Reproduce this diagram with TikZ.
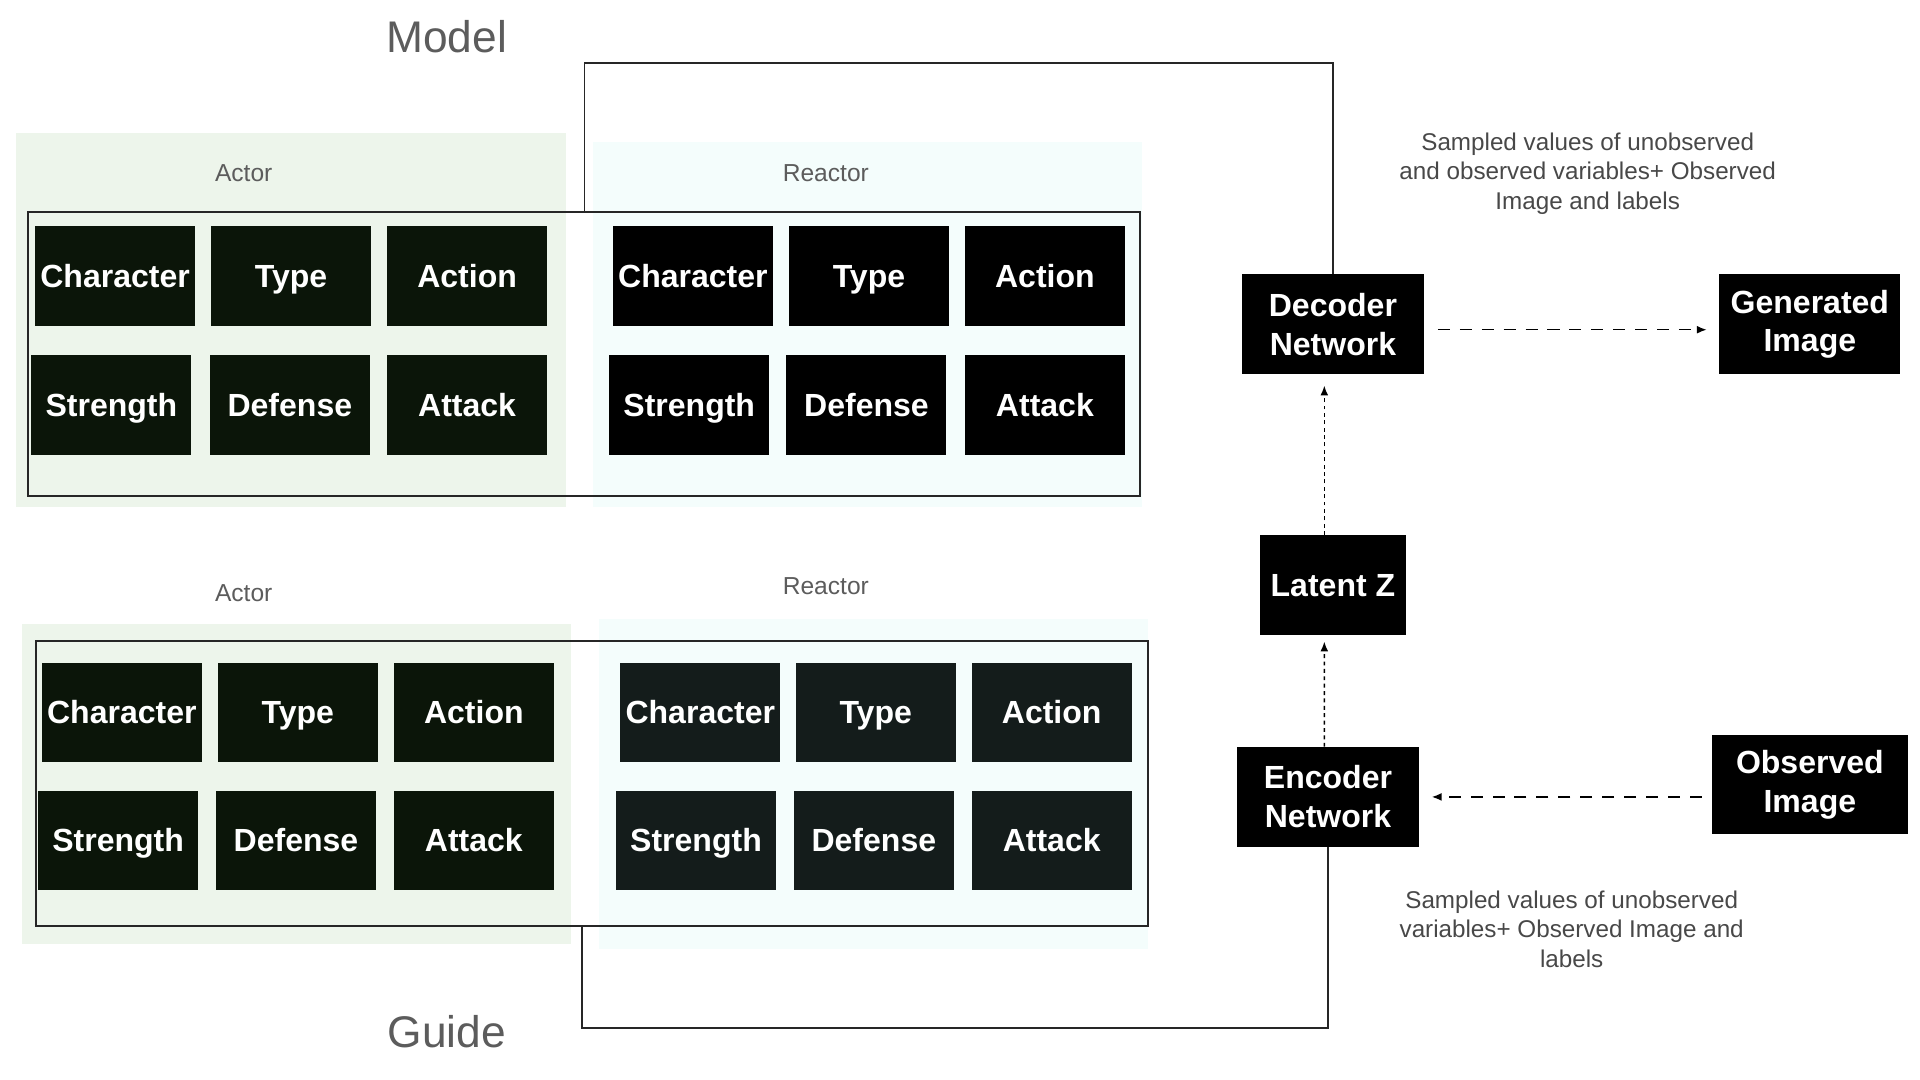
\documentclass[tikz,border=0pt]{standalone}
\usepackage{fontspec}
\setmainfont{Liberation Sans}
\usetikzlibrary{arrows.meta}
\definecolor{actorbg}{HTML}{EDF5EB}
\definecolor{reactorbg}{HTML}{F4FDFC}
\definecolor{actorbox}{HTML}{0B1509}
\definecolor{guidebox}{HTML}{141C1B}
\definecolor{titlegray}{HTML}{5C5C5C}
\definecolor{notegray}{HTML}{484848}

\begin{document}
\begin{tikzpicture}[x=0.025cm, y=-0.025cm,
	attrbox/.style={fill=#1, text=white, inner sep=0pt, text height=13pt, text depth=0pt, minimum width=3.25cm, minimum height=2.025cm, font=\bfseries\fontsize{18.5}{22}\selectfont},
	netbox/.style={fill=black, text=white, inner sep=0pt, align=center, minimum width=#1, minimum height=2.025cm, font=\bfseries\fontsize{18.5}{22.5}\selectfont},
	groupframe/.style={draw=black!85, line width=0.04cm, inner sep=0pt, minimum width=22.6cm, minimum height=5.775cm},
	grplabel/.style={text=titlegray, font=\fontsize{14.2}{17}\selectfont},
	sidetitle/.style={text=titlegray, font=\fontsize{25.6}{30}\selectfont},
	sidenote/.style={text=notegray, align=center, font=\fontsize{14}{17}\selectfont},
	loopline/.style={draw=black!85, line width=0.035cm},
	dashedflow/.style={line width=0.03cm, dash pattern=on 0.245cm off 0.2cm, -{Latex[length=0.2cm,width=0.16cm]}},
	dottedflow/.style={line width=0.03cm, dash pattern=on 0.08cm off 0.07cm, -{Latex[length=0.2cm,width=0.16cm]}}]
			%%%%% START %%%%%
			\useasboundingbox (0, 0) rectangle (1560, 877.5);
			
			\node[sidetitle] (model) at (363, 30) {Model};
			\node[sidetitle] (guide) at (363, 838) {Guide};
			
			% model side
			\fill[actorbg] (13, 108) rectangle (460, 412);
			\fill[reactorbg] (482, 115) rectangle (928, 412);
			\node[grplabel] (mactor) at (198, 141) {Actor};
			\node[grplabel] (mreactor) at (671, 141) {Reactor};
			\node[groupframe] (mframe) at (474.5, 287.5) {};
			
			\node[attrbox=actorbox] (macha) at (93.5, 224.5) {Character};
			\node[attrbox=actorbox] (matyp) at (236.5, 224.5) {Type};
			\node[attrbox=actorbox] (maact) at (379.5, 224.5) {Action};
			\node[attrbox=actorbox] (mastr) at (90.5, 329) {Strength};
			\node[attrbox=actorbox] (madef) at (235.5, 329) {Defense};
			\node[attrbox=actorbox] (maatk) at (379.5, 329) {Attack};
			
			\node[attrbox=black] (mrcha) at (563, 224.5) {Character};
			\node[attrbox=black] (mrtyp) at (706, 224.5) {Type};
			\node[attrbox=black] (mract) at (849, 224.5) {Action};
			\node[attrbox=black] (mrstr) at (560, 329) {Strength};
			\node[attrbox=black] (mrdef) at (704, 329) {Defense};
			\node[attrbox=black] (mratk) at (849, 329) {Attack};
			
			% guide side
			\fill[actorbg] (18, 507) rectangle (464, 767);
			\fill[reactorbg] (487, 503) rectangle (933, 771);
			\node[grplabel] (gactor) at (198, 482) {Actor};
			\node[grplabel] (greactor) at (671, 476) {Reactor};
			\node[groupframe] (gframe) at (481, 636.5) {};
			
			\node[attrbox=actorbox] (gacha) at (99, 579) {Character};
			\node[attrbox=actorbox] (gatyp) at (242, 579) {Type};
			\node[attrbox=actorbox] (gaact) at (385, 579) {Action};
			\node[attrbox=actorbox] (gastr) at (96, 683) {Strength};
			\node[attrbox=actorbox] (gadef) at (240.5, 683) {Defense};
			\node[attrbox=actorbox] (gaatk) at (385, 683) {Attack};
			
			\node[attrbox=guidebox] (grcha) at (569, 579) {Character};
			\node[attrbox=guidebox] (grtyp) at (711.5, 579) {Type};
			\node[attrbox=guidebox] (gract) at (854.5, 579) {Action};
			\node[attrbox=guidebox] (grstr) at (565.5, 683) {Strength};
			\node[attrbox=guidebox] (grdef) at (710, 683) {Defense};
			\node[attrbox=guidebox] (gratk) at (854.5, 683) {Attack};
			
			% networks
			\node[netbox=3.7cm] (dec) at (1083, 263.5) {Decoder\\Network};
			\node[netbox=3.675cm] (gen) at (1470.5, 263.5) {Generated\\Image};
			\node[netbox=2.95cm] (lat) at (1083, 475.5) {Latent Z};
			\node[netbox=3.7cm] (enc) at (1079, 647.5) {Encoder\\Network};
			\node[netbox=3.975cm] (obs) at (1470.5, 637.5) {Observed\\Image};
			
			\node[sidenote] (decnote) at (1290, 141) {Sampled values of unobserved\\and observed variables+ Observed\\Image and labels};
			\node[sidenote] (encnote) at (1277, 755) {Sampled values of unobserved\\variables+ Observed Image and\\labels};
			
			\coordinate (mtap) at (475, 172);
			\coordinate (gtap) at (473, 752);
			\draw[loopline] (mtap) -- ++(0, -121) -| (dec.north);
			\draw[loopline] (enc.south) -- ++(0, 147) -| (gtap);
			
			\draw[dashedflow, shorten <=0.275cm, shorten >=0.25cm] ([yshift=-0.11cm]dec.east) -- ([yshift=-0.11cm]gen.west);
			\draw[dashedflow, shorten <=0.2cm, shorten >=0.25cm] (obs.west |- enc.east) -- (enc.east);
			\draw[dottedflow, shorten >=0.225cm] ([xshift=-0.175cm]lat.north) -- ([xshift=-0.175cm]dec.south);
			\draw[dottedflow, shorten >=0.125cm] ([xshift=-0.075cm]enc.north) -- ([xshift=-0.175cm]lat.south);
			
			%%%%% END %%%%%
\end{tikzpicture}
\end{document}
